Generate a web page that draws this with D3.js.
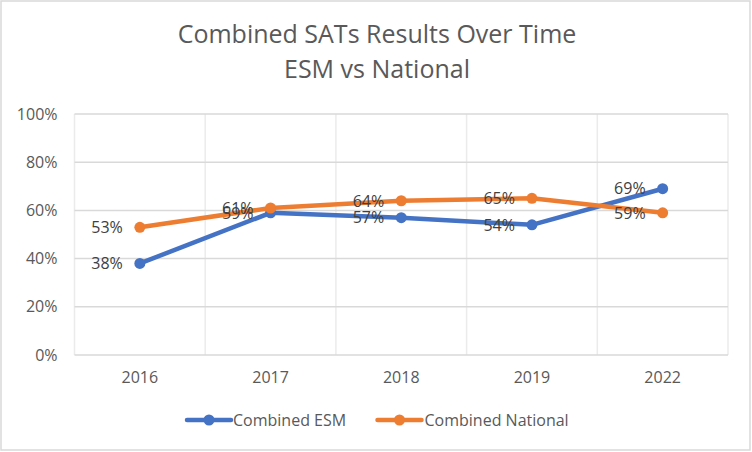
<!DOCTYPE html>
<html>
<head>
<meta charset="utf-8">
<script src="https://cdn.jsdelivr.net/npm/d3@7"></script>
<style>
  html, body { margin: 0; padding: 0; background: #fff; }
  svg { display: block; font-family: 'Open Sans', 'Noto Sans', sans-serif; }
</style>
</head>
<body>
<svg id="chart" width="752" height="452"></svg>
<script>
// Chart data
const years = ['2016', '2017', '2018', '2019', '2022']
const esm = [0.38, 0.59, 0.57, 0.54, 0.69]
const national = [0.53, 0.61, 0.64, 0.65, 0.59]
const yTicks = [0, 0.2, 0.4, 0.6, 0.8, 1]
const titleLines = ['Combined SATs Results Over Time', 'ESM vs National']

const series = [
  { name: 'Combined ESM', values: esm, color: '#4472C4' },
  { name: 'Combined National', values: national, color: '#ED7D31' }
]

const svg = d3.select('#chart')
const width = +svg.attr('width')
const height = +svg.attr('height')
const margin = { top: 114, right: 24, bottom: 97, left: 74.5 }

// chart border
svg.append('rect')
  .attr('x', 1).attr('y', 1)
  .attr('width', width - 3).attr('height', height - 3)
  .attr('fill', '#fff')
  .attr('stroke', '#d9d9d9')
  .attr('stroke-width', 1.5)

// Title
svg.append('text')
  .attr('text-anchor', 'middle')
  .attr('fill', '#595959')
  .attr('font-size', 25)
  .selectAll('tspan')
  .data(titleLines)
  .enter().append('tspan')
  .attr('x', 377)
  .attr('y', (d, i) => 43 + i * 35)
  .text(d => d)

const x = d3.scaleBand()
  .domain(years)
  .range([margin.left, width - margin.right])

const y = d3.scaleLinear()
  .domain([0, 1])
  .range([height - margin.bottom, margin.top])

const g = svg.append('g')

// Vertical gridlines at category boundaries
const bounds = years.map(d => x(d)).concat([x.range()[1]])
g.append('g')
  .selectAll('line')
  .data(bounds)
  .enter().append('line')
  .attr('x1', d => d).attr('x2', d => d)
  .attr('y1', y(1)).attr('y2', y(0))
  .attr('stroke', '#ebebeb')
  .attr('stroke-width', 1.5)

// Horizontal gridlines
g.append('g')
  .selectAll('line')
  .data(yTicks)
  .enter().append('line')
  .attr('x1', x.range()[0]).attr('x2', x.range()[1])
  .attr('y1', d => y(d)).attr('y2', d => y(d))
  .attr('stroke', '#d9d9d9')
  .attr('stroke-width', 1.5)

// Y-axis
const yAxis = g.append('g')
  .attr('transform', 'translate(' + margin.left + ',0)')
  .call(d3.axisLeft(y).tickValues(yTicks).tickFormat(d3.format('.0%')).tickSize(0).tickPadding(17))
yAxis.select('.domain').remove()
yAxis.selectAll('text')
  .attr('fill', '#595959')
  .attr('font-size', 16)
  .attr('font-family', 'Open Sans, sans-serif')

// X-axis
const xAxis = g.append('g')
  .attr('transform', 'translate(0,' + y(0) + ')')
  .call(d3.axisBottom(x).tickSize(0).tickPadding(17))
xAxis.select('.domain').remove()
xAxis.selectAll('text')
  .attr('fill', '#595959')
  .attr('font-size', 16)
  .attr('font-family', 'Open Sans, sans-serif')

const cx = d => x(d) + x.bandwidth() / 2
const line = d3.line()
  .x((d, i) => cx(years[i]))
  .y(d => y(d))

// Lines, markers and labels
series.forEach(s => {
  g.append('path')
    .datum(s.values)
    .attr('fill', 'none')
    .attr('stroke', s.color)
    .attr('stroke-width', 4.5)
    .attr('stroke-linejoin', 'round')
    .attr('stroke-linecap', 'round')
    .attr('d', line)

  g.append('g')
    .selectAll('circle')
    .data(s.values)
    .enter().append('circle')
    .attr('cx', (d, i) => cx(years[i]))
    .attr('cy', d => y(d))
    .attr('r', 5.5)
    .attr('fill', s.color)
})

series.forEach(s => {
  g.append('g')
    .selectAll('text')
    .data(s.values)
    .enter().append('text')
    .attr('x', (d, i) => cx(years[i]) - 17)
    .attr('y', d => y(d))
    .attr('dy', '0.36em')
    .attr('text-anchor', 'end')
    .attr('fill', '#404040')
    .attr('font-size', 16)
    .text(d => d3.format('.0%')(d))
})

// Legend
const legendItems = [
  { x: 187, textX: 233 },
  { x: 377.5, textX: 424.5 }
]
const legend = svg.append('g')
  .selectAll('g')
  .data(series)
  .enter().append('g')
  .attr('transform', (d, i) => 'translate(' + legendItems[i].x + ',420)')
legend.append('line')
  .attr('x1', 0).attr('x2', 44)
  .attr('stroke', d => d.color)
  .attr('stroke-width', 4.5)
  .attr('stroke-linecap', 'round')
legend.append('circle')
  .attr('cx', 22)
  .attr('r', 5.5)
  .attr('fill', d => d.color)
legend.append('text')
  .attr('x', (d, i) => legendItems[i].textX - legendItems[i].x)
  .attr('dy', '0.36em')
  .attr('fill', '#595959')
  .attr('font-size', 16)
  .text(d => d.name)
</script>
</body>
</html>
